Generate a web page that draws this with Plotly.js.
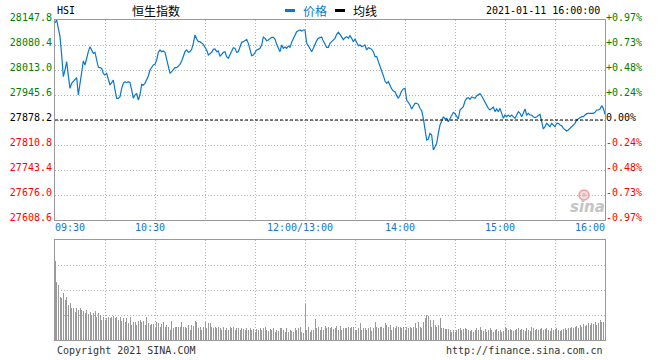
<!DOCTYPE html>
<html>
<head>
<meta charset="utf-8">
<script src="https://cdn.plot.ly/plotly-3.0.1.min.js"></script>
<style>html,body{margin:0;padding:0;background:#fff;}#chart{width:660px;height:360px;}</style>
</head>
<body>
<div id="chart"></div>
<script>
// ---- Data (HSI intraday, 2021-01-11) ----
const prevClose = 27878.2;
// one value per minute, 09:30 .. 12:00
const priceMorning = [
 28140.0,28147.8,28125.4,28102.9,28053.5,27995.0,28013.0,28035.5,27997.7,27963.6,
 27977.1,27981.6,27986.1,27992.3,27945.6,27977.1,28008.5,28037.3,28026.5,28046.3,
 28062.4,28075.9,28064.2,28057.9,28060.6,28035.5,28020.2,28019.3,28017.5,28004.0,
 27999.5,28004.0,27990.5,27972.6,27978.9,27986.1,27959.1,27936.6,27936.6,27941.1,
 27963.6,27977.1,27981.6,27978.9,27981.6,27978.9,27959.1,27936.6,27945.6,27950.1,
 27932.1,27945.6,27974.4,27972.6,27977.1,27986.1,27996.8,28013.0,28022.0,28026.5,
 28028.3,28040.0,28060.6,28066.9,28062.4,28064.2,28060.6,28040.0,28015.7,28004.0,
 28008.5,28015.7,28019.3,28019.3,28024.7,28028.3,28037.3,28053.5,28062.4,28066.9,
 28060.6,28062.4,
 28068.7,28084.9,28107.4,28096.6,28089.4,28089.4,28084.9,28082.2,28074.1,28066.9,
 28053.5,28056.1,28060.6,28068.7,28069.6,28062.4,28064.2,28049.9,28055.2,28060.6,
 28062.4,28049.0,28044.5,28055.2,28062.4,28073.2,28071.4,28060.6,28062.4,28075.9,
 28087.6,28089.4,28092.1,28095.7,28084.9,28064.2,28051.7,28053.5,28059.7,28066.9,
 28068.7,28071.4,28080.4,28102.0,28098.4,28092.1,28093.9,28098.4,28101.1,28101.1,
 28096.6,28082.2,28074.1,28062.4,28080.4,28071.4,28075.0,28071.4,28077.7,28074.1,
 28087.6,28098.4,28110.1,28116.4,28119.0,28120.8,28118.1,28120.8,28120.8
];
// one value per minute, 13:01 .. 16:00
const priceAfternoon = [
 28084.9,
 28078.6,28068.7,28062.4,28071.4,28083.1,28092.1,28098.4,28101.1,28102.0,28091.2,
 28082.2,28074.1,28074.1,
 28084.9,28089.4,28093.9,28098.4,28109.2,28114.6,28109.2,28100.2,28094.8,28100.2,
 28102.9,28098.4,28105.6,28098.4,28089.4,28096.6,28089.4,28078.6,28080.4,28075.9,
 28077.7,28080.4,28066.9,28073.2,28071.4,28068.7,28062.4,28049.0,28049.0,28037.3,
 28026.5,28014.8,27997.7,27983.4,27977.1,27981.6,27970.8,27961.8,27956.4,27954.6,
 27943.8,27936.6,27945.6,27956.4,27961.8,27963.6,27932.1,27925.8,27918.6,27907.9,
 27916.9,27923.1,27923.1,27920.4,27909.7,27903.4,27882.7,27846.8,27824.3,27826.9,
 27842.3,27837.8,27797.3,27806.3,27815.3,27842.3,27864.7,27875.5,27887.2,27880.9,
 27882.7,27873.7,27882.7,27891.7,27898.9,27895.3,27887.2,27880.9,27905.2,27909.7,
 27914.2,27929.5,27936.6,
 27938.4,27934.0,27940.2,27938.4,27936.6,27942.9,27945.6,27949.2,27942.9,27934.0,
 27925.8,27920.4,27909.7,27905.2,27909.7,27913.3,27900.7,27907.9,27900.7,27909.7,
 27896.2,27882.7,27891.7,27887.2,27891.7,27887.2,27891.7,27887.2,27882.7,27891.7,
 27900.7,27896.2,27887.2,27896.2,27907.9,27891.7,27896.2,27891.7,27891.7,27887.2,
 27884.5,27887.2,27891.7,27893.5,27873.7,27853.9,27860.2,27869.2,27864.7,27860.2,
 27869.2,27864.7,27860.2,27869.2,27869.2,27864.7,27862.9,27855.7,27851.2,27848.6,
 27851.2,27855.7,27860.2,27864.7,27869.2,27878.2,27882.7,27884.5,27887.2,27887.2,
 27891.7,27895.3,27896.2,27895.3,27896.2,27896.2,27898.9,27905.2,27905.2,27907.9,
 27916.9,27909.7,27893.5
];
// volume per minute (relative units)
const volumeMorning = [
 79,58,55,43,42,47,40,43,35,37, 32,32,28,32,30,32,30,29,27,30,
 26,28,25,27,29,23,27,25,20,23, 20,22,23,22,23,24,22,23,20,23,
 19,22,18,22,17,23,15,18,18,15, 19,20,18,19,15,23,17,15,16,16,
 12,18,17,13,16,18,13,15,13,10, 19,12,13,13,13,13,18,13,13,12,
 15,10, 15,14,19,
 18,12,13,10,13,18,12,17,17,13, 12,13,12,13,12,10,13,10,12,10,
 13,12,13,10,12,12,10,12,11,10, 12,10,12,10,11,8,11,10,12,10,
 12,13,10,9,11,10,12,8,10,9, 12,12,10,8,12,8,10,9,8,12,
 10,12,13,8,7, 36
];
const volumeAfternoon = [
 10,13,8,10,10,21,12,13,10,13,10,14,12,13,
 12,13,11,12,14,10,14,10,12,12, 12,13,12,13,13,10,10,12,17,10,
 12,12,10,12,13,9,12,18,13,12, 13,13,12,17,15,13,15,10,13,12,
 14,13,13,12,13,10,13,12,13,12, 13,17,12,18,13,12,18,22,25,24,
 20,13,20,15,13,15,22,12,12,11, 11,11,10,8,10,8,10,11,12,10,
 11,12,11,
 10,9,10,8,10,12,10,13,10,9, 11,8,10,12,10,8,10,11,9,10,
 8,9,13,12,10,11,10,9,10,11, 12,10,11,10,9,12,10,9,13,12,
 10,11,10,11,12,10,11,12,10,9, 12,10,11,12,10,9,10,11,12,10,
 12,12,13,12,13,14,12,15,13,16, 14,15,17,15,17,16,18,15,17,20,
 18,18,23
];
const priceTicks = [27608.6, 27676.0, 27743.4, 27810.8, 27878.2, 27945.6, 28013.0, 28080.4, 28147.8];
const priceTickLabels = ['27608.6','27676.0','27743.4','27810.8','27878.2','27945.6','28013.0','28080.4','28147.8'];
const pctTickLabels = ['-0.97%','-0.73%','-0.48%','-0.24%','0.00%','+0.24%','+0.48%','+0.73%','+0.97%'];
const gridMinutes = [0,30,60,90,120,150,180,210,240,270,300,330];     // half-hour grid lines
const timeLabels = ['09:30','10:30','12:00/13:00','14:00','15:00','16:00'];
const timeLabelMinutes = [9,57,147,207,267,321];                       // where each label is centred
const volGridTicks = [25,50,75];

// ---- Build ----
const price = priceMorning.concat(priceAfternoon);
const volume = volumeMorning.concat(volumeAfternoon);
const minutes = price.map((_, i) => i);
function colorFor(v){ return v > prevClose ? '#008000' : (v < prevClose ? '#ff0000' : '#000000'); }
const leftText = priceTickLabels.map((t,i)=>'<span style="color:'+colorFor(priceTicks[i])+'">'+t+'</span>');
const rightText = pctTickLabels.map((t,i)=>'<span style="color:'+colorFor(priceTicks[i])+'">'+t+'</span>');

const blue = '#0a78cc';
const frame = '#999999';
const grid = '#b4b4b4';
const mono = 'DejaVu Sans Mono';
const cjk = 'Noto Sans CJK SC';

const traces = [
  {x: minutes, y: volume, type:'bar', xaxis:'x2', yaxis:'y2', marker:{color:'#9a9a9a', line:{width:0}}, width:0.6, hoverinfo:'skip'},
  {x: [0, 330], y: [prevClose, prevClose], type:'scatter', mode:'lines', xaxis:'x3', yaxis:'y3', line:{color:'#000', width:1, dash:'3px,2px'}, hoverinfo:'skip'},
  {x: minutes, y: price, type:'scatter', mode:'lines', xaxis:'x', yaxis:'y', line:{color:blue, width:1.2}, name:'价格', hoverinfo:'skip'}
];

const priceRange = [priceTicks[0], priceTicks[priceTicks.length-1]];
const px = v => (v-55)/550;
const py = v => (340-v)/320;

const layout = {
  width:660, height:360,
  margin:{l:55, r:55, t:20, b:20, pad:0},
  paper_bgcolor:'#fff', plot_bgcolor:'#fff',
  showlegend:false,
  bargap:0,
  font:{family:mono, size:10, color:'#000'},
  xaxis:{domain:[0,1], anchor:'y', range:[0,330], tickmode:'array', tickvals:gridMinutes, showticklabels:false, ticks:'',
         showgrid:true, gridcolor:grid, griddash:'1px,2px', gridwidth:1,
         showline:true, linecolor:frame, linewidth:1, mirror:true, zeroline:false, fixedrange:true},
  xaxis3:{overlaying:'x', anchor:'y', side:'bottom', range:[0,330], tickmode:'array', tickvals:timeLabelMinutes, ticktext:timeLabels,
          tickangle:0, ticks:'', tickfont:{family:mono, size:10, color:'#1577c8'},
          showgrid:false, showline:false, zeroline:false, fixedrange:true},
  yaxis:{domain:[0.375,1], anchor:'x', range:priceRange, tickmode:'array', tickvals:priceTicks, ticktext:leftText,
         ticks:'', ticklabelshift:-3, tickfont:{family:mono, size:10},
         showgrid:true, gridcolor:grid, griddash:'1px,2px', gridwidth:1,
         showline:true, linecolor:frame, linewidth:1, mirror:true, zeroline:false, fixedrange:true},
  yaxis3:{overlaying:'y', side:'right', anchor:'x', range:priceRange, tickmode:'array', tickvals:priceTicks, ticktext:rightText,
          ticks:'', ticklabelshift:-3, tickfont:{family:mono, size:10}, showgrid:false, zeroline:false, showline:false, fixedrange:true},
  xaxis2:{domain:[0,1], anchor:'y2', range:[0,330], tickmode:'array', tickvals:gridMinutes, showticklabels:false, ticks:'',
          showgrid:true, gridcolor:grid, griddash:'1px,2px', gridwidth:1,
          showline:true, linecolor:frame, linewidth:1, mirror:true, zeroline:false, fixedrange:true},
  yaxis2:{domain:[0,0.3125], anchor:'x2', range:[0,100], tickmode:'array', tickvals:volGridTicks, showticklabels:false, ticks:'',
          showgrid:true, gridcolor:grid, griddash:'1px,2px', gridwidth:1,
          showline:true, linecolor:frame, linewidth:1, mirror:true, zeroline:false, fixedrange:true},
  shapes:[
    {type:'rect', xref:'paper', yref:'paper', x0:px(285), x1:px(295), y0:py(12), y1:py(9), fillcolor:blue, line:{width:0}},
    {type:'rect', xref:'paper', yref:'paper', x0:px(335), x1:px(345), y0:py(12), y1:py(9), fillcolor:'#000', line:{width:0}},
    // sina logo eye (decorative)
    {type:'circle', xref:'paper', yref:'paper', x0:px(579), x1:px(589), y0:py(200), y1:py(190), fillcolor:'rgba(240,150,150,0.35)', line:{color:'#f0a0a0', width:1.5}},
    {type:'circle', xref:'paper', yref:'paper', x0:px(582), x1:px(586), y0:py(197), y1:py(193), fillcolor:'#c8c8c8', line:{width:0}}
  ],
  annotations:[
    {xref:'paper', yref:'paper', x:px(55), y:py(10), xanchor:'left', yanchor:'middle', showarrow:false, text:'HSI', font:{family:mono, size:10, color:'#000'}},
    {xref:'paper', yref:'paper', x:px(130), y:py(10), xanchor:'left', yanchor:'middle', showarrow:false, text:'恒生指数', font:{family:cjk, size:12, color:'#000'}},
    {xref:'paper', yref:'paper', x:px(301), y:py(10), xanchor:'left', yanchor:'middle', showarrow:false, text:'价格', font:{family:cjk, size:12, color:blue}},
    {xref:'paper', yref:'paper', x:px(351), y:py(10), xanchor:'left', yanchor:'middle', showarrow:false, text:'均线', font:{family:cjk, size:12, color:'#000'}},
    {xref:'paper', yref:'paper', x:px(602), y:py(10), xanchor:'right', yanchor:'middle', showarrow:false, text:'2021-01-11 16:00:00', font:{family:mono, size:10, color:'#000'}},
    {xref:'paper', yref:'paper', x:px(55), y:py(350), xanchor:'left', yanchor:'middle', showarrow:false, text:'Copyright 2021 SINA.COM', font:{family:mono, size:10, color:'#333'}},
    {xref:'paper', yref:'paper', x:px(605), y:py(350), xanchor:'right', yanchor:'middle', showarrow:false, text:'http://finance.sina.com.cn', font:{family:mono, size:10, color:'#333'}},
    {xref:'paper', yref:'paper', x:px(587), y:py(207), xanchor:'center', yanchor:'middle', showarrow:false, text:'<i><b>sina</b></i>', font:{family:'DejaVu Sans', size:15, color:'#c4c4c4'}}
  ]
};

Plotly.newPlot('chart', traces, layout, {staticPlot:true, displayModeBar:false});
</script>
</body>
</html>
